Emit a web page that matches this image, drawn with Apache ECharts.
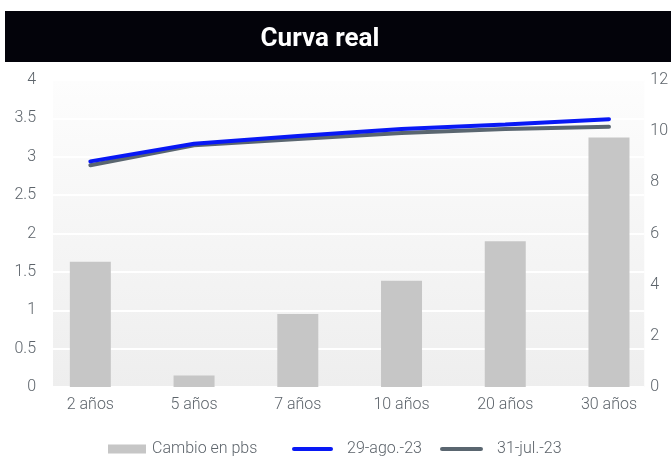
<!DOCTYPE html>
<html>
<head>
<meta charset="utf-8">
<style>
    html, body { margin: 0; padding: 0; background: #fff; }
    #chart { width: 671px; height: 457px; }
</style>
<script src="https://cdn.jsdelivr.net/npm/echarts@6/dist/echarts.min.js"></script>
</head>
<body>
<div id="chart"></div>
<script>
var categorias = ['2 años', '5 años', '7 años', '10 años', '20 años', '30 años'];
var cambioPbs = [4.9, 0.45, 2.85, 4.15, 5.7, 9.75];
var curvaAgo = [2.94, 3.17, 3.27, 3.36, 3.42, 3.49];
var curvaJul = [2.89, 3.15, 3.23, 3.31, 3.36, 3.39];
var ticksIzq = [0, 4, 0.5];
var ticksDer = [0, 12, 2];

// pares [indice, valor] para el eje x numerico
function pares(arr) {
    var out = [];
    for (var i = 0; i < arr.length; i++) {
        out.push([i, arr[i]]);
    }
    return out;
}

var posiciones = [];
for (var i = 0; i < categorias.length; i++) posiciones.push(i);

var fuente = 'Roboto';
var grisTexto = '#5d646b';
var iconoLinea = 'path://M2,0 L39,0 A2,2 0 0 1 39,4 L2,4 A2,2 0 0 1 2,0 Z';

function leyenda(nombre, izq, ancho, icono, sep) {
    return {
        top: 441,
        left: izq,
        padding: 0,
        itemWidth: ancho,
        itemHeight: 9,
        icon: icono,
        textStyle: { color: grisTexto, fontFamily: fuente, fontWeight: 300, fontSize: 16, padding: [0, 0, 0, sep] },
        data: [nombre]
    };
}

var myChart = echarts.init(document.getElementById('chart'));
var option = {
    backgroundColor: '#ffffff',
    animation: false,
    title: {
        text: 'Curva real',
        left: 315,
        top: 21,
        textAlign: 'center',
        textStyle: { color: '#ffffff', fontFamily: fuente, fontWeight: 'bold', fontSize: 26 }
    },
    graphic: [{
        type: 'rect',
        z: -1,
        shape: { x: 5, y: 11, width: 666, height: 51 },
        style: { fill: '#03030a' }
    }],
    legend: [
        leyenda('Cambio en pbs', 108, 38, 'rect', 1),
        leyenda('29-ago.-23', 292, 41, iconoLinea, 9),
        leyenda('31-jul.-23', 440, 43, iconoLinea, 9)
    ],
    grid: {
        left: 53, right: 25, top: 80, bottom: 70,
        show: true,
        borderWidth: 0,
        backgroundColor: new echarts.graphic.LinearGradient(0, 0, 0, 1, [
            { offset: 0, color: '#fdfdfd' },
            { offset: 1, color: '#eeeeee' }
        ])
    },
    xAxis: {
        type: 'value',
        min: -0.36,
        max: 5.34,
        axisLine: { show: false },
        axisTick: { show: false },
        splitLine: { show: false },
        axisLabel: {
            customValues: posiciones,
            margin: 10,
            color: grisTexto,
            fontFamily: fuente,
            fontWeight: 300,
            fontSize: 16,
            formatter: function (v) { return categorias[Math.round(v)]; }
        }
    },
    yAxis: [{
        type: 'value',
        min: ticksIzq[0], max: ticksIzq[1], interval: ticksIzq[2],
        axisLine: { show: false },
        axisTick: { show: false },
        axisLabel: { color: grisTexto, fontFamily: fuente, fontWeight: 300, fontSize: 16, margin: 17 },
        splitLine: { lineStyle: { color: '#ffffff', width: 2 } }
    }, {
        type: 'value',
        min: ticksDer[0], max: ticksDer[1], interval: ticksDer[2],
        position: 'right',
        axisLine: { show: false },
        axisTick: { show: false },
        axisLabel: { color: grisTexto, fontFamily: fuente, fontWeight: 300, fontSize: 16, margin: 6 },
        splitLine: { show: false }
    }],
    series: [{
        name: 'Cambio en pbs',
        type: 'bar',
        yAxisIndex: 1,
        barWidth: 41,
        itemStyle: { color: '#c6c6c6' },
        data: pares(cambioPbs)
    }, {
        name: '29-ago.-23',
        type: 'line',
        yAxisIndex: 0,
        symbol: 'none',
        z: 4,
        lineStyle: { color: '#0818f5', width: 4, cap: 'round' },
        itemStyle: { color: '#0818f5' },
        data: pares(curvaAgo)
    }, {
        name: '31-jul.-23',
        type: 'line',
        yAxisIndex: 0,
        symbol: 'none',
        z: 3,
        lineStyle: { color: '#5a6670', width: 4, cap: 'round' },
        itemStyle: { color: '#5a6670' },
        data: pares(curvaJul)
    }]
};
myChart.setOption(option);
</script>
</body>
</html>
